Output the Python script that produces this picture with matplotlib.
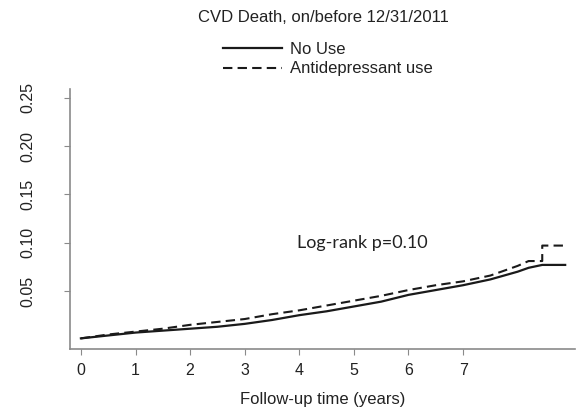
import matplotlib
matplotlib.use('Agg')
import matplotlib.pyplot as plt

# cumulative incidence (years of follow-up)
years = [0, 0.5, 1, 1.5, 2, 2.5, 3, 3.5, 4, 4.5, 5, 5.5, 6, 6.5, 7, 7.5, 8, 8.2, 8.45, 8.45, 8.87]
no_use = [0.001, 0.004, 0.007, 0.009, 0.011, 0.013, 0.016, 0.020, 0.025, 0.029,
          0.034, 0.039, 0.046, 0.051, 0.056, 0.062, 0.070, 0.074, 0.077, 0.077, 0.077]
antidep = [0.001, 0.005, 0.008, 0.011, 0.015, 0.018, 0.021, 0.026, 0.030, 0.035,
           0.040, 0.045, 0.051, 0.056, 0.060, 0.066, 0.076, 0.081, 0.081, 0.097, 0.097]

x_ticks = [0, 1, 2, 3, 4, 5, 6, 7]
y_ticks = [0.05, 0.10, 0.15, 0.20, 0.25]

plt.rcParams['font.family'] = ['Liberation Sans', 'DejaVu Sans']

W, H = 582, 411
fig = plt.figure(figsize=(W / 100, H / 100), dpi=100)
ax = fig.add_axes([70 / W, (H - 349) / H, (575 - 70) / W, (349 - 89) / H])

ax.plot(years, no_use, color='#1a1a1a', lw=1.6, label='No Use')
l2, = ax.plot(years, antidep, color='#1a1a1a', lw=1.5, label='Antidepressant use')
l2.set_dashes([4.5, 2.5])

ax.set_xlim(-0.2, 9.05)
ax.set_ylim(-0.010, 0.259)
ax.set_xticks(x_ticks)
ax.set_yticks(y_ticks)
ax.set_yticklabels(['%.2f' % v for v in y_ticks], rotation=90, va='center')

for s in ['top', 'right']:
    ax.spines[s].set_visible(False)
for s in ['left', 'bottom']:
    ax.spines[s].set_color('#8a8a8a')
    ax.spines[s].set_linewidth(1.2)
ax.tick_params(axis='both', colors='#8a8a8a', labelcolor='#222222', labelsize=11.5, length=4)
ax.tick_params(axis='y', pad=21)
ax.tick_params(axis='x', pad=6)

fig.text(323 / W, 1 - 399 / H, 'Follow-up time (years)', ha='center', va='center',
         fontsize=12, color='#222222')
fig.text(323 / W, 1 - 18 / H, 'CVD Death, on/before 12/31/2011', ha='center', va='center',
         fontsize=12, color='#222222')

ax.legend(loc='upper left', bbox_to_anchor=(220 / W, 1 - 39 / H), bbox_transform=fig.transFigure,
          frameon=False, fontsize=12, handlelength=3.5, handletextpad=0.5, labelspacing=0.25,
          borderaxespad=0, borderpad=0.2, labelcolor='#222222')

ax.text(362 / W, 1 - 243 / H, 'Log-rank p=0.10', transform=fig.transFigure, ha='center',
        va='center', fontsize=13, family=['Lato', 'DejaVu Sans'], color='#222222')

fig.savefig('out.png', dpi=100)
